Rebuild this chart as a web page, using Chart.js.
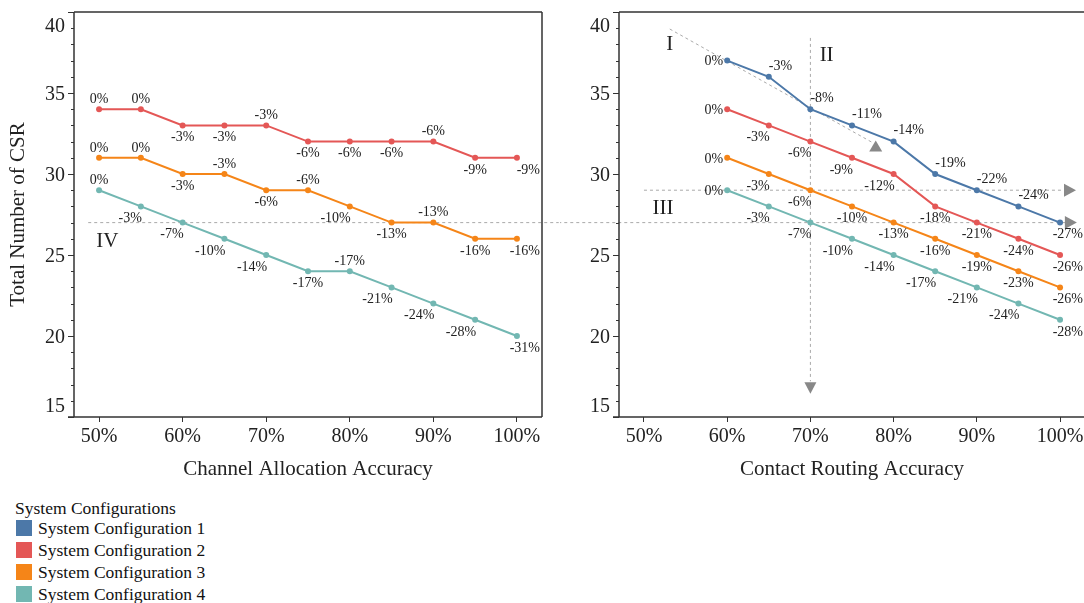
<!DOCTYPE html>
<html>
<head>
<meta charset="utf-8">
<script src="https://cdn.jsdelivr.net/npm/chart.js@4.4.1/dist/chart.umd.min.js"></script>
<style>
  html, body { margin: 0; padding: 0; background: #fff; }
  body { width: 1084px; height: 603px; position: relative; overflow: hidden; font-family: "Liberation Serif", "Times New Roman", serif; }
  #leftWrap { position: absolute; left: 0; top: 0; width: 560px; height: 482px; }
  #rightWrap { position: absolute; left: 560px; top: 0; width: 528px; height: 482px; }
  #legend { position: absolute; left: 15px; top: 497px; font-size: 17.5px; color: #111; }
  #legend .title { line-height: 22px; height: 22px; }
  #legend .items { margin-top: -2px; }
  #legend .item { line-height: 22px; height: 22px; white-space: nowrap; }
  #legend .sw { display: inline-block; width: 16px; height: 16px; margin-left: 1px; margin-right: 6px; vertical-align: -2px; }
</style>
</head>
<body>
<div id="leftWrap"><canvas id="leftChart"></canvas></div>
<div id="rightWrap"><canvas id="rightChart"></canvas></div>
<div id="legend">
  <div class="title">System Configurations</div>
  <div class="items" id="legendItems"></div>
</div>
<script>
const FONT = '"Liberation Serif", "Times New Roman", serif';

// x values (accuracy, %)
const channelAcc = [50, 55, 60, 65, 70, 75, 80, 85, 90, 95, 100];
const routingAcc = [60, 65, 70, 75, 80, 85, 90, 95, 100];

// Total Number of CSR - left panel (Channel Allocation Accuracy)
const channelConfig2 = [34, 34, 33, 33, 33, 32, 32, 32, 32, 31, 31];
const channelConfig3 = [31, 31, 30, 30, 29, 29, 28, 27, 27, 26, 26];
const channelConfig4 = [29, 28, 27, 26, 25, 24, 24, 23, 22, 21, 20];

// Total Number of CSR - right panel (Contact Routing Accuracy)
const routingConfig1 = [37, 36, 34, 33, 32, 30, 29, 28, 27];
const routingConfig2 = [34, 33, 32, 31, 30, 28, 27, 26, 25];
const routingConfig3 = [31, 30, 29, 28, 27, 26, 25, 24, 23];
const routingConfig4 = [29, 28, 27, 26, 25, 24, 23, 22, 21];

const xTicks = [50, 60, 70, 80, 90, 100];
const yTicks = [15, 20, 25, 30, 35, 40];

const configNames = ['System Configuration 1', 'System Configuration 2', 'System Configuration 3', 'System Configuration 4'];
const configColors = ['#4c78a8', '#e45756', '#f58518', '#72b7b2'];

// guide lines [x1, y1, x2, y2] and arrow heads [x, y, dir], in data units
const leftGuides = [[48.7, 27, 105, 27]];
const rightGuides = [[39.7, 27, 100.8, 27], [50, 29, 100.6, 29], [70, 38.4, 70, 17.2], [53.1, 38.95, 77.6, 31.9]];
const rightArrows = [[101.3, 27, 'right'], [101.2, 29, 'right'], [70, 16.8, 'down'], [77.85, 31.7, 'up']];
const leftMarks = [['IV', 51.0, 25.9]];
const rightMarks = [['I', 53.1, 38.1], ['II', 71.95, 37.4], ['III', 52.3, 27.95]];

// where each percent label sits relative to its point
// a above, u above-right, b below, r below-left, l left, e below at plot edge
const anchors = {
  leftC2: 'aabbabbbabe',
  leftC3: 'aababarbabe',
  leftC4: 'arrrrbarrre',
  rightC1: 'luuuuuuue',
  rightC2: 'lrrrrbbbe',
  rightC3: 'lrrbbbbbe',
  rightC4: 'lrrrrrrre'
};

const decorById = {
  leftChart: { guides: leftGuides, arrows: [], marks: leftMarks, rightBorder: true },
  rightChart: { guides: rightGuides, arrows: rightArrows, marks: rightMarks, rightBorder: false }
};

function series(xs, ys, idx, anchor) {
  return {
    label: configNames[idx],
    data: xs.map((x, i) => ({ x: x, y: ys[i] })),
    borderColor: configColors[idx],
    backgroundColor: configColors[idx],
    pointBackgroundColor: configColors[idx],
    anchors: anchor
  };
}

const panelDecor = {
  id: 'panelDecor',
  beforeDatasetsDraw(chart) {
    const d = decorById[chart.canvas.id];
    const { ctx } = chart;
    const x = chart.scales.x, y = chart.scales.y;
    ctx.save();
    ctx.strokeStyle = '#aaa';
    ctx.lineWidth = 1;
    ctx.setLineDash([3, 3]);
    d.guides.forEach(g => {
      ctx.beginPath();
      ctx.moveTo(x.getPixelForValue(g[0]), y.getPixelForValue(g[1]));
      ctx.lineTo(x.getPixelForValue(g[2]), y.getPixelForValue(g[3]));
      ctx.stroke();
    });
    ctx.setLineDash([]);
    ctx.fillStyle = '#888';
    d.arrows.forEach(([vx, vy, dir]) => {
      const cx = x.getPixelForValue(vx), cy = y.getPixelForValue(vy);
      ctx.beginPath();
      if (dir === 'right') {
        ctx.moveTo(cx + 6, cy); ctx.lineTo(cx - 6, cy - 6.5); ctx.lineTo(cx - 6, cy + 6.5);
      } else if (dir === 'down') {
        ctx.moveTo(cx, cy + 6); ctx.lineTo(cx - 6, cy - 5.5); ctx.lineTo(cx + 6, cy - 5.5);
      } else {
        ctx.moveTo(cx, cy - 6); ctx.lineTo(cx - 6.5, cy + 5); ctx.lineTo(cx + 6.5, cy + 5);
      }
      ctx.closePath();
      ctx.fill();
    });
    ctx.restore();
  },
  afterDatasetsDraw(chart) {
    const d = decorById[chart.canvas.id];
    const { ctx, chartArea: a } = chart;
    const x = chart.scales.x, y = chart.scales.y;
    ctx.save();
    ctx.fillStyle = '#222';
    ctx.font = '14px ' + FONT;
    chart.data.datasets.forEach((ds, di) => {
      const meta = chart.getDatasetMeta(di);
      const v0 = ds.data[0].y;
      meta.data.forEach((pt, i) => {
        const v = ds.data[i].y;
        const txt = Math.round((v - v0) / v0 * 100) + '%';
        const code = ds.anchors[i];
        let tx = pt.x, cy = pt.y, align = 'center';
        if (code === 'a') { cy = pt.y - 11; }
        else if (code === 'u') { cy = pt.y - 12; align = 'left'; }
        else if (code === 'b') { cy = pt.y + 11; }
        else if (code === 'r') { cy = pt.y + 11; align = 'right'; tx = pt.x + 1; }
        else if (code === 'l') { align = 'right'; tx = pt.x - 4; }
        else if (code === 'e') { cy = pt.y + 11; align = 'right'; tx = a.right - 2; }
        ctx.textAlign = align;
        ctx.textBaseline = 'alphabetic';
        ctx.fillText(txt, tx, cy + 4.8);
      });
    });
    ctx.font = '21px ' + FONT;
    ctx.textAlign = 'center';
    d.marks.forEach(([t, vx, vy]) => {
      ctx.fillText(t, x.getPixelForValue(vx), y.getPixelForValue(vy) + 7);
    });
    ctx.restore();
  },
  afterDraw(chart) {
    const d = decorById[chart.canvas.id];
    const { ctx, chartArea: a } = chart;
    const y = chart.scales.y;
    ctx.save();
    ctx.strokeStyle = '#333';
    ctx.lineWidth = 1.5;
    ctx.beginPath();
    ctx.moveTo(a.left, a.top); ctx.lineTo(a.right, a.top);
    ctx.moveTo(a.left, a.top); ctx.lineTo(a.left, a.bottom);
    ctx.moveTo(a.left - 6, a.bottom); ctx.lineTo(a.right, a.bottom);
    if (d.rightBorder) { ctx.moveTo(a.right, a.top); ctx.lineTo(a.right, a.bottom); }
    ctx.stroke();
    // y ticks: every unit, longer on labelled ones
    ctx.lineWidth = 1;
    ctx.beginPath();
    for (let v = y.min; v <= y.max; v++) {
      const py = Math.round(y.getPixelForValue(v)) + 0.5;
      const len = v % 5 === 0 ? 6 : 3;
      ctx.moveTo(a.left - len, py); ctx.lineTo(a.left, py);
    }
    ctx.stroke();
    ctx.fillStyle = '#222';
    ctx.font = '20px ' + FONT;
    ctx.textAlign = 'right';
    ctx.textBaseline = 'alphabetic';
    yTicks.forEach(v => {
      const py = y.getPixelForValue(v);
      let base = py + 6.5;
      if (v === y.max) base = py + 20;
      if (v === y.min) base = py - 5;
      ctx.fillText(String(v), a.left - 9, base);
    });
    ctx.restore();
  }
};

function makePanel(id, datasets, xTitle, yTitle, yWidth, padRight) {
  return new Chart(document.getElementById(id), {
    type: 'line',
    data: { datasets: datasets },
    options: {
      responsive: true,
      maintainAspectRatio: false,
      animation: false,
      devicePixelRatio: 1,
      layout: { padding: { top: 12, right: padRight, left: 0, bottom: 0 } },
      plugins: { legend: { display: false }, tooltip: { enabled: false } },
      elements: {
        line: { borderWidth: 2, tension: 0 },
        point: { radius: 3, borderWidth: 0, hoverRadius: 3 }
      },
      scales: {
        x: {
          type: 'linear', min: 47, max: 103,
          afterBuildTicks: s => { s.ticks = xTicks.map(v => ({ value: v })); },
          afterFit: s => { s.height = 65; s.paddingLeft = 0; s.paddingRight = 0; },
          grid: { drawOnChartArea: false, drawTicks: true, tickLength: 5, color: '#333' },
          border: { display: false },
          ticks: { callback: v => v + '%', font: { family: FONT, size: 20 }, color: '#222', padding: 3, maxRotation: 0, autoSkip: false },
          title: { display: true, text: xTitle, font: { family: FONT, size: 21 }, color: '#222', padding: { top: 0, bottom: 0 } }
        },
        y: {
          type: 'linear', min: 15, max: 40,
          afterFit: s => { s.width = yWidth; s.paddingTop = 0; s.paddingBottom = 0; },
          grid: { display: false },
          border: { display: false },
          ticks: { display: false },
          title: { display: !!yTitle, text: yTitle || '', font: { family: FONT, size: 21 }, color: '#222', padding: { top: 6, bottom: 0 } }
        }
      }
    },
    plugins: [panelDecor]
  });
}

makePanel('leftChart', [
  series(channelAcc, channelConfig2, 1, anchors.leftC2),
  series(channelAcc, channelConfig3, 2, anchors.leftC3),
  series(channelAcc, channelConfig4, 3, anchors.leftC4)
], 'Channel Allocation Accuracy', 'Total Number of CSR', 74, 18);

makePanel('rightChart', [
  series(routingAcc, routingConfig1, 0, anchors.rightC1),
  series(routingAcc, routingConfig2, 1, anchors.rightC2),
  series(routingAcc, routingConfig3, 2, anchors.rightC3),
  series(routingAcc, routingConfig4, 3, anchors.rightC4)
], 'Contact Routing Accuracy', null, 59, 0);

const legendItems = document.getElementById('legendItems');
configNames.forEach((name, i) => {
  const row = document.createElement('div');
  row.className = 'item';
  const sw = document.createElement('span');
  sw.className = 'sw';
  sw.style.background = configColors[i];
  row.appendChild(sw);
  row.appendChild(document.createTextNode(name));
  legendItems.appendChild(row);
});
</script>
</body>
</html>
